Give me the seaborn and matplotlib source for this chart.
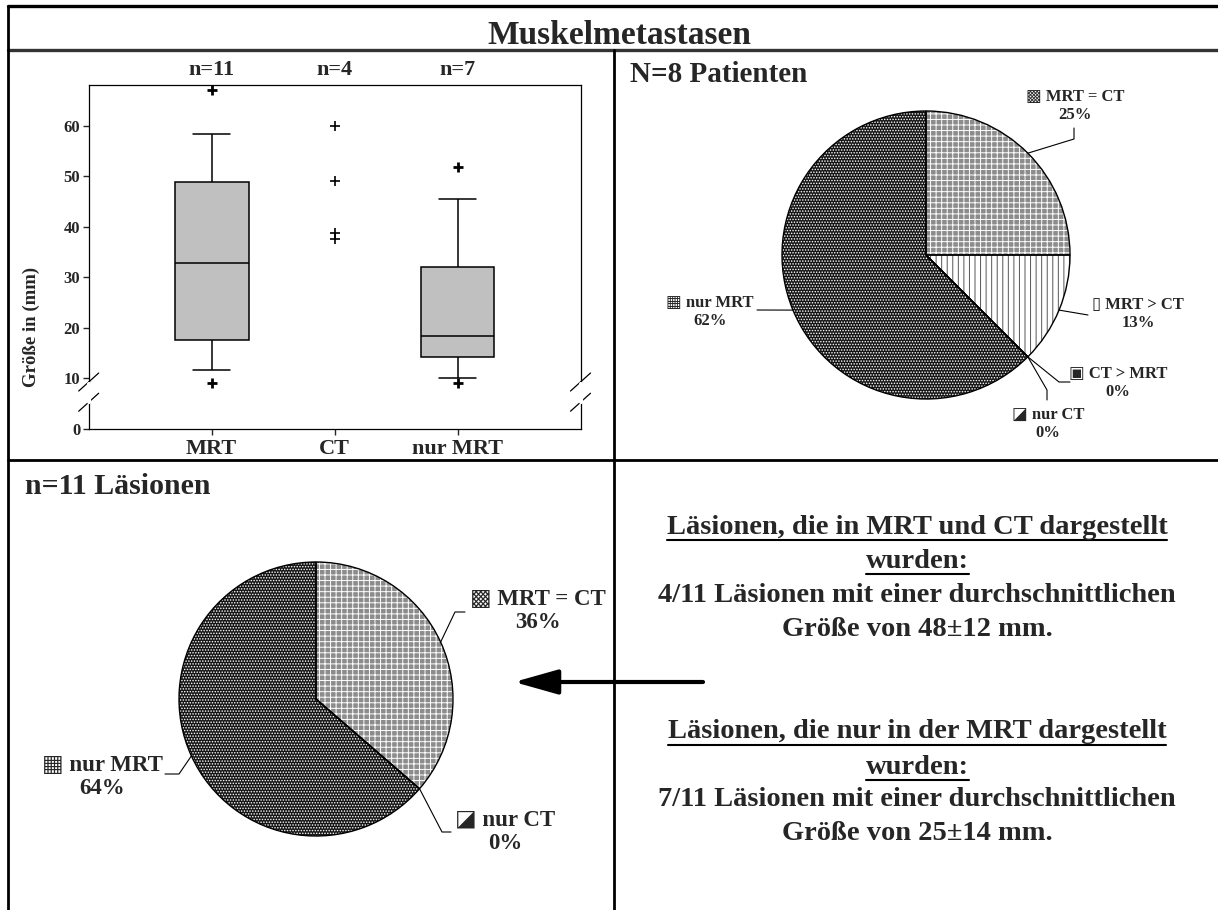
import numpy as np
import pandas as pd
import matplotlib
matplotlib.use("Agg")
import matplotlib.pyplot as plt
from matplotlib.lines import Line2D
from matplotlib.patches import FancyArrowPatch
import matplotlib.transforms as mtransforms
import seaborn as sns

# box plot: lesion sizes in mm
groups = ["MRT", "CT", "nur MRT"]
group_n = ["n=11", "n=4", "n=7"]
size_mrt = [9.1, 11.7, 17.0, 18.4, 25.0, 32.8, 40.0, 47.0, 50.8, 58.4, 67.2]
size_ct = [60.0, 49.0, 38.8, 37.6]
size_nur_mrt = [9.1, 10.1, 18.5, 18.5, 18.5, 45.5, 51.9]
yticks = [0, 10, 20, 30, 40, 50, 60]

# pie 1: patients
pat_labels = ["MRT = CT", "MRT > CT", "CT > MRT", "nur CT", "nur MRT"]
pat_counts = [2, 1, 0, 0, 5]
pat_pct = ["25%", "13%", "0%", "0%", "62%"]

# pie 2: lesions
les_labels = ["MRT = CT", "nur CT", "nur MRT"]
les_counts = [4, 0, 7]
les_pct = ["36%", "0%", "64%"]

info_lines = ["Läsionen, die in MRT und CT dargestellt", "wurden:",
              "4/11 Läsionen mit einer durchschnittlichen", "Größe von 48±12 mm.",
              "Läsionen, die nur in der MRT dargestellt", "wurden:",
              "7/11 Läsionen mit einer durchschnittlichen", "Größe von 25±14 mm."]
info_underline = [True, True, False, False, True, True, False, False]

sns.set_style("ticks")
plt.rcParams["font.family"] = ["Liberation Serif", "DejaVu Sans"]
plt.rcParams["font.weight"] = "bold"
plt.rcParams["hatch.linewidth"] = 0.7

W, H = 1218, 910
fig = plt.figure(figsize=(W / 100, H / 100), dpi=100)


def fx(x):
    return x / W


def fy(y):
    return 1 - y / H


# ---- frame of the whole sheet
for xs, ys, lw, c in [([7.5, W], [6, 6], 2.4, "black"),
                      ([7.5, W], [50, 50], 2.4, "#333333"),
                      ([7.5, 7.5], [6, H], 2.0, "black"),
                      ([614, 614], [50, H], 2.0, "black"),
                      ([7.5, W], [460, 460], 2.0, "black")]:
    fig.add_artist(Line2D([fx(v) for v in xs], [fy(v) for v in ys], lw=lw, color=c, zorder=5))

fig.text(fx(619), fy(35), "Muskelmetastasen", ha="center", va="center", fontsize=24)

# ---- box plot
ax = fig.add_axes([fx(88.7), fy(429), (580.5 - 88.7) / W, (429 - 85) / H])
box_df = pd.DataFrame({"Gruppe": ["MRT"] * len(size_mrt) + ["nur MRT"] * len(size_nur_mrt),
                       "Größe": size_mrt + size_nur_mrt})
ct_df = pd.DataFrame({"Gruppe": ["CT"] * len(size_ct), "Größe": size_ct})

sns.boxplot(data=box_df, x="Gruppe", y="Größe", order=groups, whis=(10, 90), width=0.6,
            color="#c0c0c0", saturation=1, linecolor="black", linewidth=1.1,
            flierprops=dict(marker="+", markersize=7, markeredgewidth=2,
                            markeredgecolor="black"), ax=ax)
sns.stripplot(data=ct_df, x="Gruppe", y="Größe", order=groups, jitter=False, marker="+",
              color="black", size=7, linewidth=1.2, ax=ax)

ax.set_xlim(-1, 3)
ax.set_ylim(0, 68.1)
ax.set_yticks(yticks)
ax.set_xlabel("")
ax.set_ylabel("Größe in (mm)", fontsize=13.5, fontweight="bold")
ax.yaxis.set_label_coords(-0.099, 0.297)
ax.tick_params(axis="x", labelsize=16, length=4, width=1, pad=3)
ax.tick_params(axis="y", labelsize=12, length=4, width=1, pad=2)
for s in ax.spines.values():
    s.set_visible(True)
    s.set_color("black")
    s.set_linewidth(0.9)
for i, lab in enumerate(group_n):
    ax.text(i, 1.044, lab, transform=mtransforms.blended_transform_factory(ax.transData, ax.transAxes),
            ha="center", va="center", fontsize=16)

# axis break marks on both vertical spines
brk = mtransforms.blended_transform_factory(ax.transAxes, ax.transData)
for xa in (0, 1):
    ax.plot([xa, xa], [5.4, 8.9], color="white", lw=3, transform=brk, clip_on=False, zorder=6)
    for yb in (9.3, 5.3):
        for off in ((-10, -9), (10, 9)):
            ax.annotate("", xy=(xa, yb), xycoords=brk, xytext=off, textcoords="offset pixels",
                        arrowprops=dict(arrowstyle="-", lw=0.9, color="black", shrinkA=0, shrinkB=0),
                        annotation_clip=False)

# ---- pies
styles = {"MRT = CT": ("#8c8c8c", "white", "+++", "▩"),
          "MRT > CT": ("white", "#555555", "|||", "▯"),
          "CT > MRT": ("white", "#333333", "++", "▣"),
          "nur CT": ("white", "#333333", "//", "◪"),
          "nur MRT": ("#151515", "white", "......", "▦")}


def pie_panel(box, cx, cy, R, counts, labels, pcts, text_pos, elbows, fs):
    x0, y0, x1, y1 = box
    pax = fig.add_axes([fx(x0), fy(y1), (x1 - x0) / W, (y1 - y0) / H])
    wedges, _ = pax.pie(counts, startangle=90, counterclock=False,
                        colors=[styles[l][0] for l in labels], wedgeprops=dict(linewidth=0))
    for w, l in zip(wedges, labels):
        w.set_edgecolor(styles[l][1])
        w.set_hatch(styles[l][2])
    pax.pie(counts, startangle=90, counterclock=False,
            wedgeprops=dict(fill=False, edgecolor="black", linewidth=1))
    pax.set_xlim((x0 - cx) / R, (x1 - cx) / R)
    pax.set_ylim((cy - y1) / R, (cy - y0) / R)
    pax.set_aspect("equal")
    pax.axis("off")

    def d(px, py):
        return (px - cx) / R, (cy - py) / R

    for w, l, p, tp, el in zip(wedges, labels, pcts, text_pos, elbows):
        ang = np.deg2rad((w.theta1 + w.theta2) / 2)
        pts = [(np.cos(ang), np.sin(ang))] + [d(*q) for q in el]
        pax.plot([q[0] for q in pts], [q[1] for q in pts], color="black", lw=0.8, clip_on=False)
        tx, ty = d(*tp)
        pax.text(tx, ty, styles[l][3] + " " + l + "\n" + p, ha="center", va="center",
                 fontsize=fs, linespacing=1.15)
    return pax


pie_panel((614, 50, W, 460), 926, 255, 144, pat_counts, pat_labels, pat_pct,
          [(1075, 106), (1138, 314), (1118, 383), (1048, 424), (710, 312)],
          [[(1074, 139), (1074, 128)], [(1088, 315)], [(1059, 382), (1070, 382)],
           [(1047, 390), (1047, 400)], [(757, 310)]], 12)
fig.text(fx(630), fy(75), "N=8 Patienten", ha="left", va="center", fontsize=21)

pie_panel((7.5, 460, 614, H), 316, 699, 137, les_counts, les_labels, les_pct,
          [(538, 611), (505, 832), (102, 777)],
          [[(455, 612), (465, 612)], [(442, 832), (451, 832)], [(179, 774), (165, 774)]], 16.5)
fig.text(fx(25), fy(487), "n=11 Läsionen", ha="left", va="center", fontsize=21.5)

# ---- text panel with arrow
info_y = [527, 561, 595, 629, 732, 767, 800, 833]
texts = []
for line, yy in zip(info_lines, info_y):
    texts.append(fig.text(fx(917), fy(yy), line, ha="center", va="center", fontsize=20.5))

fig.add_artist(FancyArrowPatch((fx(703), fy(682)), (fx(514), fy(682)), transform=fig.transFigure,
                               arrowstyle="-|>,head_length=1.35,head_width=0.38",
                               mutation_scale=20, lw=3, color="black", shrinkA=0, shrinkB=0))

fig.canvas.draw()
renderer = fig.canvas.get_renderer()
for t, yy, ul in zip(texts, info_y, info_underline):
    if ul:
        bb = t.get_window_extent(renderer)
        fig.add_artist(Line2D([bb.x0 / W, bb.x1 / W], [fy(yy + 13)] * 2, lw=1.5, color="black"))

fig.savefig("out.png", dpi=100)
